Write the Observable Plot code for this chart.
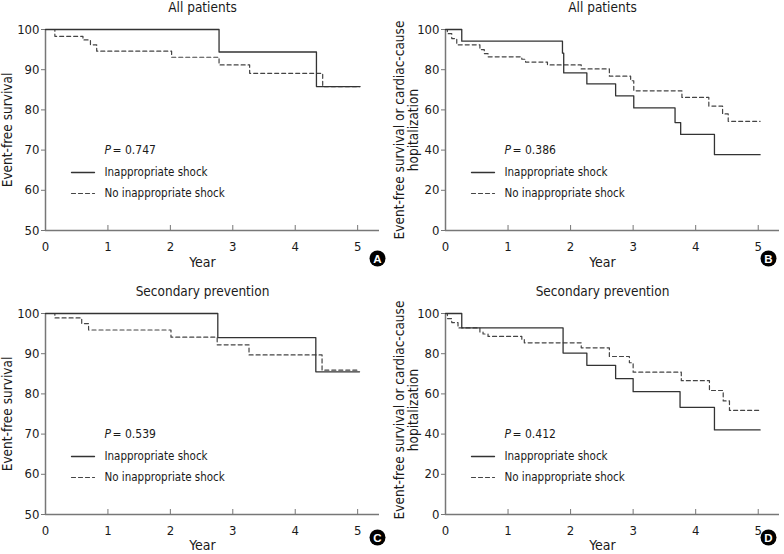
<!DOCTYPE html>
<html>
<head>
<meta charset="utf-8">
<script src="https://cdn.jsdelivr.net/npm/d3@7"></script>
<script src="https://cdn.jsdelivr.net/npm/@observablehq/plot@0.6"></script>
<style>
  html, body { margin: 0; padding: 0; background: #fff; }
  #wrap { position: relative; width: 784px; height: 554px; overflow: hidden; }
  .panel { position: absolute; width: 392px; height: 277px; }
  .panel svg { display: block; }
</style>
</head>
<body>
<div id="wrap"></div>
<script>
// ---- Data ----
const yearTicks = [0, 1, 2, 3, 4, 5];
const survTicksHigh = [50, 60, 70, 80, 90, 100];
const survTicksFull = [0, 20, 40, 60, 80, 100];

const seriesNames = ["Inappropriate shock", "No inappropriate shock"];

// Panel A: All patients, event-free survival
const A_shock_t = [0, 2.78, 4.34, 5.03];
const A_shock_s = [100, 94.4, 85.8, 85.8];
const A_no_t = [0, 0.15, 0.6, 0.72, 0.82, 2.02, 2.78, 3.27, 4.44, 5.04];
const A_no_s = [100, 98.3, 97.4, 96.2, 94.6, 93.1, 91.2, 89.1, 85.8, 85.8];

// Panel B: All patients, event-free survival or cardiac-cause hospitalization
const B_shock_t = [0, 0.26, 1.87, 1.89, 2.26, 2.72, 3.01, 3.67, 3.76, 4.3, 5.03];
const B_shock_s = [100, 94.2, 88.2, 78.4, 72.9, 67, 61, 53.7, 47.8, 37.7, 37.7];
const B_no_t = [0, 0.03, 0.1, 0.18, 0.55, 0.62, 0.68, 1.22, 1.28, 1.63, 2.17, 2.62, 2.96, 3.01, 3.78, 4.21, 4.43, 4.52, 5.03];
const B_no_s = [100, 97.9, 95.5, 92.4, 90, 88, 86.4, 85.2, 83.8, 82.4, 80.4, 76.8, 74.5, 69.5, 66.2, 61.9, 58, 54.3, 54.3];

// Panel C: Secondary prevention, event-free survival
const C_shock_t = [0, 2.76, 4.33, 5.03];
const C_shock_s = [100, 94, 85.5, 85.5];
const C_no_t = [0, 0.15, 0.58, 0.69, 2.01, 2.75, 3.26, 4.43, 5.03];
const C_no_s = [100, 98.9, 97.5, 95.9, 94.1, 92.2, 89.7, 85.9, 85.9];

// Panel D: Secondary prevention, event-free survival or cardiac-cause hospitalization
const D_shock_t = [0, 0.26, 1.88, 2.26, 2.72, 3.0, 3.75, 4.3, 5.03];
const D_shock_s = [100, 92.8, 80.3, 74.2, 67.6, 61.1, 53.3, 42.1, 42.1];
const D_no_t = [0, 0.03, 0.1, 0.2, 0.55, 0.6, 0.68, 1.22, 1.26, 2.17, 2.62, 2.94, 3.0, 3.77, 4.22, 4.44, 4.54, 5.03];
const D_no_s = [100, 97.5, 95.5, 92.8, 90.8, 89.8, 88.6, 87, 85.4, 82.9, 78.6, 75.5, 70.8, 66.6, 61.7, 56.5, 51.8, 51.8];

const titles = ["All patients", "All patients", "Secondary prevention", "Secondary prevention"];
const yLabels = ["Event-free survival", "Event-free survival or cardiac-cause\nhopitalization",
                 "Event-free survival", "Event-free survival or cardiac-cause\nhopitalization"];
const pValues = ["0.747", "0.386", "0.539", "0.412"];
const panelLetters = ["A", "B", "C", "D"];

// ---- Build ----
const FONT = '"Liberation Sans Narrow", "Arial Narrow", "DejaVu Sans Condensed", sans-serif';
const toRows = (t, s) => t.map((x, i) => ({t: x, s: s[i]}));

const panels = [
  {shock: toRows(A_shock_t, A_shock_s), no: toRows(A_no_t, A_no_s), ticks: survTicksHigh, left: 0, top: 0, ml: 45, mr: 13, mt: 29, mb: 47, xmax: 5.35},
  {shock: toRows(B_shock_t, B_shock_s), no: toRows(B_no_t, B_no_s), ticks: survTicksFull, left: 392, top: 0, ml: 53, mr: 5, mt: 29, mb: 47, xmax: 5.34},
  {shock: toRows(C_shock_t, C_shock_s), no: toRows(C_no_t, C_no_s), ticks: survTicksHigh, left: 0, top: 277, ml: 45, mr: 13, mt: 36, mb: 40, xmax: 5.35},
  {shock: toRows(D_shock_t, D_shock_s), no: toRows(D_no_t, D_no_s), ticks: survTicksFull, left: 392, top: 277, ml: 53, mr: 5, mt: 36, mb: 40, xmax: 5.34}
];

const lineShape = {draw(context, l) { context.moveTo(0, 0); context.lineTo(0, -l); }};
const TXT = "#1a1a1a";

panels.forEach((p, i) => {
  const yMin = p.ticks[0], yMax = p.ticks[p.ticks.length - 1];
  const bottomDy = p.mb === 47 ? 28 : 23;
  const labelDy = p.mb === 47 ? 32 : 31;
  const two = yLabels[i].includes("\n");
  const chart = Plot.plot({
    width: 392, height: 277,
    marginLeft: p.ml, marginRight: p.mr, marginTop: p.mt, marginBottom: p.mb,
    style: {fontFamily: FONT, fontSize: "13px", color: TXT, background: "white", overflow: "visible"},
    x: {domain: [0, p.xmax]},
    y: {domain: [yMin, yMax]},
    marks: [
      Plot.axisY({ticks: p.ticks, tickFormat: d => String(d), tickSize: 4, tickPadding: 2, label: null, fontSize: 13, stroke: "#777", fill: TXT}),
      Plot.axisX({ticks: yearTicks, tickFormat: d => String(d), tickSize: -5, tickPadding: 16, label: null, fontSize: 13, stroke: "#777", fill: TXT}),
      Plot.ruleX([0], {stroke: "#777", strokeWidth: 1.5}),
      Plot.ruleY([yMin], {stroke: "#777", strokeWidth: 1.5}),
      Plot.line(p.no, {x: "t", y: "s", curve: "step-after", stroke: "#444", strokeWidth: 1.2, strokeDasharray: "4,3"}),
      Plot.line(p.shock, {x: "t", y: "s", curve: "step-after", stroke: "#333", strokeWidth: 1.3}),
      // title
      Plot.text([titles[i]], {frameAnchor: "top-left", dx: 157, dy: -22, text: d => d, textAnchor: "middle", lineAnchor: "middle", fontSize: 13.5, fill: TXT}),
      // x label
      Plot.text(["Year"], {frameAnchor: "bottom-left", dx: 157, dy: labelDy, text: d => d, textAnchor: "middle", lineAnchor: "middle", fontSize: 14, fill: TXT}),
      // y label
      Plot.text([yLabels[i]], {frameAnchor: "left", dx: two ? -39 : -37.5, dy: i === 3 ? -4 : 0, rotate: -90, text: d => d, textAnchor: "middle", lineAnchor: "middle", lineHeight: 1.0, fontSize: 13.5, fill: TXT}),
      // P value
      Plot.text(["P"], {frameAnchor: "top-left", dx: 59, dy: 121, text: d => d, textAnchor: "start", lineAnchor: "middle", fontSize: 12, fontStyle: "italic", fill: TXT}),
      Plot.text(["= " + pValues[i]], {frameAnchor: "top-left", dx: 67, dy: 121, text: d => d, textAnchor: "start", lineAnchor: "middle", fontSize: 12, fill: TXT}),
      // legend
      Plot.vector([seriesNames[0]], {frameAnchor: "top-left", dx: 26, dy: 143, length: 23, rotate: 90, anchor: "start", shape: lineShape, stroke: "#333", strokeWidth: 1.3}),
      Plot.vector([seriesNames[1]], {frameAnchor: "top-left", dx: 26, dy: 164, length: 23, rotate: 90, anchor: "start", shape: lineShape, stroke: "#444", strokeWidth: 1.2, strokeDasharray: "4,3"}),
      Plot.text([seriesNames[0]], {frameAnchor: "top-left", dx: 59, dy: 143, text: d => d, textAnchor: "start", lineAnchor: "middle", fontSize: 11.5, fill: TXT}),
      Plot.text([seriesNames[1]], {frameAnchor: "top-left", dx: 59, dy: 164, text: d => d, textAnchor: "start", lineAnchor: "middle", fontSize: 11.5, fill: TXT}),
      // panel letter
      Plot.dot([panelLetters[i]], {frameAnchor: "bottom-right", dx: p.mr === 13 ? -2 : -11, dy: bottomDy, r: 8, fill: "#000", stroke: "none"}),
      Plot.text([panelLetters[i]], {frameAnchor: "bottom-right", dx: p.mr === 13 ? -2 : -11, dy: bottomDy + 0.5, text: d => d, textAnchor: "middle", lineAnchor: "middle", fontSize: 11.5, fontWeight: "bold", fill: "#fff", fontFamily: "Liberation Sans, Arial, sans-serif"})
    ]
  });
  const div = document.createElement("div");
  div.className = "panel";
  div.style.left = p.left + "px";
  div.style.top = p.top + "px";
  div.appendChild(chart);
  document.getElementById("wrap").appendChild(div);
});
</script>
</body>
</html>
